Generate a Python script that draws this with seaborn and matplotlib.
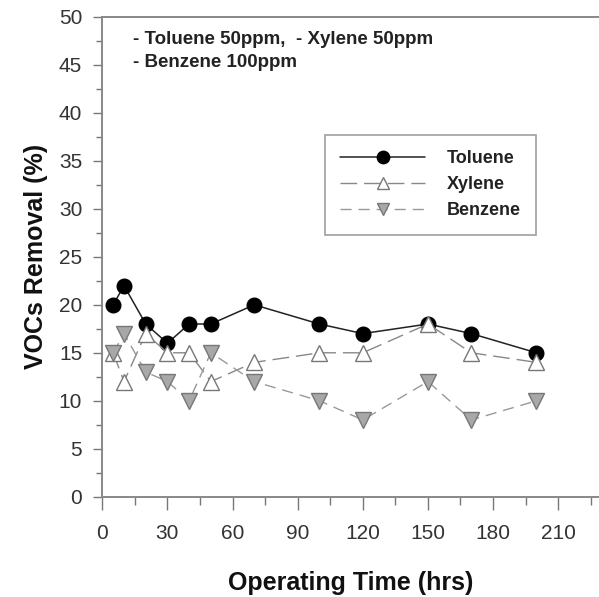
import matplotlib
matplotlib.use("Agg")
import matplotlib.pyplot as plt
import seaborn as sns
import pandas as pd
from matplotlib.ticker import MultipleLocator

hours = [5, 10, 20, 30, 40, 50, 70, 100, 120, 150, 170, 200]
toluene = [20, 22, 18, 16, 18, 18, 20, 18, 17, 18, 17, 15]
xylene = [15, 12, 17, 15, 15, 12, 14, 15, 15, 18, 15, 14]
benzene = [15, 17, 13, 12, 10, 15, 12, 10, 8, 12, 8, 10]
series_names = ["Toluene", "Xylene", "Benzene"]
note_lines = ["- Toluene 50ppm,  - Xylene 50ppm", "- Benzene 100ppm"]
x_label = "Operating Time (hrs)"
y_label = "VOCs Removal (%)"

sns.set_style("ticks")
plt.rcParams['font.family'] = ['Liberation Sans', 'DejaVu Sans']

fig = plt.figure(figsize=(5.99, 5.97), dpi=100)
ax = fig.add_axes([102.3/599, 100.3/597, 496.7/599, 479.7/597])

styles = {
    "Toluene": dict(marker="o", color="#222222", mfc="black", mec="black",
                    ms=10.5, lw=1.1, ls="-"),
    "Xylene": dict(marker="^", color="#888888", mfc="white", mec="#777777",
                   ms=11, lw=1.0, ls=(0, (12, 5))),
    "Benzene": dict(marker="v", color="#999999", mfc="#a8a8a8", mec="#777777",
                    ms=11, lw=1.0, ls=(0, (8, 5))),
}
values = {"Toluene": toluene, "Xylene": xylene, "Benzene": benzene}

for name in series_names:
    df = pd.DataFrame({"hours": hours, "removal": values[name]})
    st = styles[name]
    sns.lineplot(data=df, x="hours", y="removal", ax=ax, color=st["color"],
                 marker=st["marker"], markerfacecolor=st["mfc"],
                 markeredgecolor=st["mec"], markersize=st["ms"],
                 markeredgewidth=1.0, linewidth=st["lw"], linestyle=st["ls"],
                 label=name, legend=False)

ax.set_xlim(0, 228.8)
ax.set_ylim(0, 50)
ax.xaxis.set_major_locator(MultipleLocator(30))
ax.xaxis.set_minor_locator(MultipleLocator(15))
ax.yaxis.set_major_locator(MultipleLocator(5))
ax.yaxis.set_minor_locator(MultipleLocator(2.5))
ax.tick_params(which="major", direction="out", width=1.0,
               color="#777777", labelcolor="#333333", labelsize=15)
ax.tick_params(axis="x", which="major", length=9, pad=11)
ax.tick_params(axis="y", which="major", length=6.5, pad=8)
ax.tick_params(axis="x", which="minor", direction="out", length=5.5, width=1.0,
               color="#777777")
ax.tick_params(axis="y", which="minor", direction="out", length=4, width=1.0,
               color="#777777")
for s in ["left", "bottom", "top"]:
    ax.spines[s].set_color("#888888")
    ax.spines[s].set_linewidth(1.4)
ax.spines["right"].set_visible(False)

ax.set_xlabel(x_label, fontsize=18, fontweight="bold", labelpad=20, color="#111111")
ax.set_ylabel(y_label, fontsize=18, fontweight="bold", labelpad=8, color="#111111")

ax.text(0.062, 0.954, note_lines[0], transform=ax.transAxes, fontsize=13.5,
        fontweight="bold", va="center", ha="left", color="#222222")
ax.text(0.062, 0.905, note_lines[1], transform=ax.transAxes, fontsize=13.5,
        fontweight="bold", va="center", ha="left", color="#222222")

h, l = ax.get_legend_handles_labels()
leg = ax.legend(h, l, loc="upper left", bbox_to_anchor=(0.448, 0.754),
                frameon=True, fancybox=False, edgecolor="#888888",
                fontsize=13, handlelength=4.7, handletextpad=1.2,
                markerscale=0.85, borderpad=0.85, labelspacing=0.5,
                borderaxespad=0)
leg.get_frame().set_linewidth(1.2)
for t in leg.get_texts():
    t.set_fontweight("bold")
    t.set_color("#222222")

fig.savefig("out.png", dpi=100)
